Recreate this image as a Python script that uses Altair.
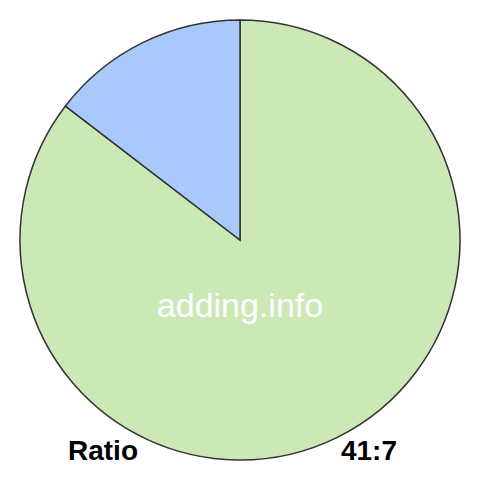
import altair as alt
import pandas as pd

labels = ["41", "7"]
values = [41, 7]
colors = ["#cce8b5", "#a9c8fb"]
order = [0, 1]

df = pd.DataFrame({"label": labels, "value": values, "order": order})

base = alt.Chart(df)
pie = base.mark_arc(radius=220, stroke="#333333", strokeWidth=1.5).encode(
    theta=alt.Theta("value:Q", stack=True),
    order=alt.Order("order:Q"),
    color=alt.Color("label:N", scale=alt.Scale(domain=labels, range=colors), legend=None),
)

watermark = alt.Chart(pd.DataFrame({"t": ["adding.info"]})).mark_text(
    font="Liberation Sans", fontSize=34, color="white", align="center", baseline="alphabetic"
).encode(text="t:N", x=alt.value(232), y=alt.value(309))

left = alt.Chart(pd.DataFrame({"t": ["Ratio"]})).mark_text(
    font="Liberation Sans", fontSize=28, fontWeight="bold", color="black", align="left", baseline="alphabetic"
).encode(text="t:N", x=alt.value(60), y=alt.value(452))

right = alt.Chart(pd.DataFrame({"t": ["41:7"]})).mark_text(
    font="Liberation Sans", fontSize=28, fontWeight="bold", color="black", align="right", baseline="alphabetic"
).encode(text="t:N", x=alt.value(389), y=alt.value(452))

chart = alt.layer(pie, watermark, left, right).properties(
    width=464, height=464, padding=0, autosize=alt.AutoSizeParams(type="none")
).configure_view(stroke=None)

chart.save("out.html", embed_options={"renderer": "svg", "actions": False})
